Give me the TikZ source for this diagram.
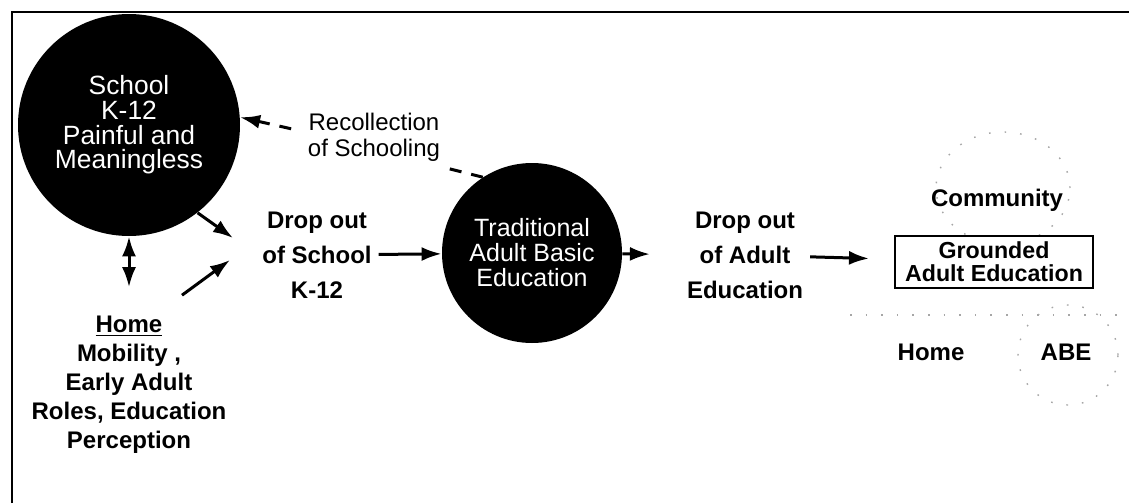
\documentclass[tikz,border=0pt]{standalone}
\usepackage{fontspec}
\setmainfont{Liberation Sans}
\usepackage{tikz}
\usetikzlibrary{arrows.meta}
\usetikzlibrary{positioning}

\begin{document}
\begin{tikzpicture}
	[x=0.5pt,y=-0.5pt,
	 every node/.style={align=center,font=\bfseries\fontsize{12}{14.5}\selectfont},
	 blob/.style={circle,fill=black,text=white,inner sep=0pt,font=\fontsize{12.5}{12.5}\selectfont},
	 tall/.style={font=\bfseries\fontsize{12}{17.5}\selectfont},
	 arr/.style={-{Latex[length=10pt,width=7pt]},line width=1.5pt},
	 dbl/.style={{Latex[length=10pt,width=7pt]}-{Latex[length=10pt,width=7pt]},line width=1.5pt},
	 recline/.style={line width=1.5pt,dash pattern=on 6pt off 5pt},
	 faint/.style={black!35,line width=0.7pt,dash pattern=on 0.8pt off 7pt}]
	\useasboundingbox (0,0) rectangle (1129,503);
	\draw[line width=1pt] (12,503) -- (12,12) -- (1129,12);

	% circles
	\node[blob,minimum size=111pt,font=\fontsize{13.2}{12.3}\selectfont] (school) at (129,125) {School\\K-12\\Painful and\\Meaningless};
	\node[blob,minimum size=90pt] (abe) at (532,253) {Traditional\\Adult Basic\\Education};

	% labels
	\node[font=\fontsize{12}{13}\selectfont] (recol) at (374,137) {Recollection\\of Schooling};
	\node[tall] (dropK) at (317,255) {Drop out\\of School\\K-12};
	\node (home) at (129,385) {\underline{Home}\\Mobility ,\\Early Adult\\Roles, Education\\Perception};
	\node[tall] (dropA) at (745,255) {Drop out\\of Adult\\Education};
	\node[draw,line width=1pt,minimum width=99pt,minimum height=26pt,inner sep=1pt,
		font=\bfseries\fontsize{11.6}{11.5}\selectfont] (gae) at (994,262) {Grounded\\Adult Education};
	\node (comm) at (997,200) {Community};
	\node (homeR) at (931,352) {Home};
	\node (abeR) at (1066,352) {ABE};

	% faint rings
	\begin{scope}
		\clip (850,100) rectangle (1129,234);
		\draw[faint] (1003,188) ellipse [x radius=33.5pt,y radius=28pt];
	\end{scope}
	\draw[faint] (850,315) -- (1125,315);
	\draw[faint] (1068,355) circle [radius=25pt];

	% arrows
	\coordinate (inA) at (233,238);
	\coordinate (inB) at (230,260);
	\draw[arr] (school.-52) -- (inA);
	\draw[arr] ([xshift=26.5pt,yshift=7pt]home.north) -- (inB);
	\draw[dbl,shorten >=11pt] (school) -- (home);

	\foreach \from/\to/\gap in
		{dropK/abe/0pt, abe/dropA/15pt, dropA/gae/12.5pt}
		\draw[arr,shorten >=\gap] (\from) -- (\to);

	\draw[recline] (abe.123) -- (recol.south east);
	\draw[arr,recline,shorten <=5pt] ([yshift=3pt]recol.west) -- (school.4);
\end{tikzpicture}
\end{document}
